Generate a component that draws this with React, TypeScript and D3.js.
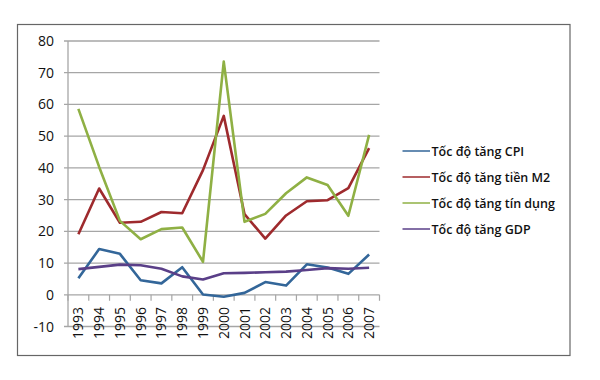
import React from "react";
import * as d3 from "d3";

const years = ["1993","1994","1995","1996","1997","1998","1999","2000","2001","2002","2003","2004","2005","2006","2007"];
const cpi = [5.2, 14.4, 12.9, 4.6, 3.6, 8.7, 0.1, -0.6, 0.6, 4.0, 2.9, 9.6, 8.6, 6.6, 12.7];
const m2 = [19.1, 33.5, 22.7, 23.0, 26.1, 25.7, 39.3, 56.4, 25.4, 17.7, 25.0, 29.5, 29.8, 33.6, 46.2];
const credit = [58.6, 40.3, 23.3, 17.5, 20.7, 21.2, 10.4, 73.5, 23.0, 25.5, 32.0, 37.0, 34.6, 24.9, 50.4];
const gdp = [8.1, 8.8, 9.5, 9.3, 8.2, 5.8, 4.8, 6.8, 6.9, 7.1, 7.3, 7.8, 8.4, 8.2, 8.5];
const yTicks = [-10, 0, 10, 20, 30, 40, 50, 60, 70, 80];
const seriesNames = ["Tốc độ tăng CPI", "Tốc độ tăng tiền M2", "Tốc độ tăng tín dụng", "Tốc độ tăng GDP"];
const seriesColors = ["#336699", "#9e2a2d", "#8fb044", "#5a3f88"];

export default function App() {
  const W = 600, H = 380;
  const left = 68, right = 379.5, top = 41, bottom = 326.5;
  const x = d3.scaleBand<string>().domain(years).range([left, right]).padding(0);
  const y = d3.scaleLinear().domain([-10, 80]).range([bottom, top]);
  const data = [cpi, m2, credit, gdp];
  const line = d3.line<number>()
    .x((_, i) => (x(years[i]) as number) + x.bandwidth() / 2)
    .y((v) => y(v));
  const font = "'Open Sans', 'Liberation Sans', sans-serif";
  const y0 = y(0);
  const boundaries = d3.range(years.length + 1).map((i) => left + i * x.bandwidth());
  return (
    <svg width={W} height={H} style={{ position: "absolute", left: 0, top: 0 }} fontFamily={font}>
      <rect x={0} y={0} width={W} height={H} fill="#ffffff" />
      <rect x={17.5} y={24.5} width={552.5} height={331} fill="none" stroke="#666" strokeWidth={1.2} />
      {yTicks.map((t) => (
        <g key={t}>
          <line x1={left - 4} x2={right} y1={y(t)} y2={y(t)} stroke="#a6a6a6" strokeWidth={1.3} />
          <text x={54} y={y(t)} dy="0.36em" textAnchor="end" fontSize={14} fill="#111">{t}</text>
        </g>
      ))}
      <line x1={left} x2={left} y1={top} y2={bottom} stroke="#a6a6a6" strokeWidth={1.3} />
      {boundaries.map((b, i) => (
        <line key={i} x1={b} x2={b} y1={y0} y2={y0 + 6} stroke="#a6a6a6" strokeWidth={1.2} />
      ))}
      {years.map((yr) => {
        const cx = (x(yr) as number) + x.bandwidth() / 2;
        return (
          <text key={yr} transform={`translate(${cx},${307}) rotate(-90)`} textAnchor="end" dy="0.36em" fontSize={14} fill="#111">{yr}</text>
        );
      })}
      {data.map((d, i) => (
        <path key={i} d={line(d) || ""} fill="none" stroke={seriesColors[i]} strokeWidth={2.6} strokeLinejoin="round" />
      ))}
      {seriesNames.map((n, i) => {
        const ly = 151 + i * 26;
        return (
          <g key={n}>
            <line x1={402.5} x2={430} y1={ly} y2={ly} stroke={seriesColors[i]} strokeWidth={1.5} />
            <text x={431.5} y={ly} dy="0.36em" fontSize={12.5} fontWeight={600} fill="#111">{n}</text>
          </g>
        );
      })}
    </svg>
  );
}
